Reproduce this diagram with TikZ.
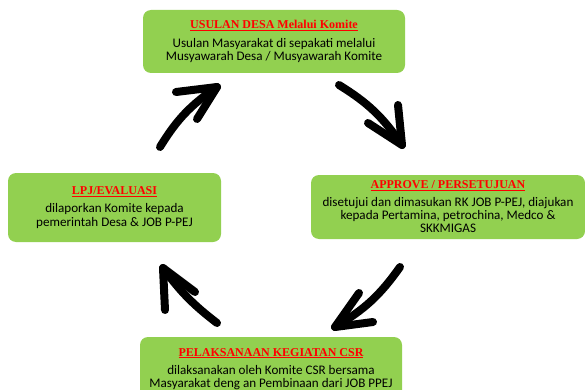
\documentclass[tikz,border=0pt]{standalone}
\usepackage{fontspec}
\setmainfont{Carlito}
\newfontfamily\titlefont{Liberation Serif}
\definecolor{boxgreen}{HTML}{92D050}
\definecolor{titlered}{HTML}{FF0000}
\begin{document}
\begin{tikzpicture}[x=1pt,y=-1pt,
  box/.style={fill=boxgreen, rounded corners=8pt, align=center, inner sep=0pt,
    font=\fontsize{13.1}{13.3}\selectfont},
  arr/.style={line width=8pt, line cap=round, line join=round, draw=black}]
\useasboundingbox (0,0) rectangle (585,390);
\clip (0,0) rectangle (585,390);
\newcommand{\ttl}[1]{{\titlefont\bfseries\color{titlered}\fontsize{12}{13.3}\selectfont\underline{#1}}}
\node[box, minimum width=262pt, minimum height=63pt] (usulan) at (274,41.5)
  {\ttl{USULAN DESA Melalui  Komite}\\[5pt]Usulan Masyarakat di sepakati melalui\\Musyawarah Desa / Musyawarah  Komite};
\node[box, minimum width=274pt, minimum height=64pt] (approve) at (448,207)
  {\ttl{APPROVE / PERSETUJUAN}\\[4pt]disetujui dan dimasukan RK JOB P-PEJ, diajukan\\kepada Pertamina, petrochina, Medco \&\\SKKMIGAS};
\node[box, minimum width=213pt, minimum height=69pt] (lpj) at (114.5,207.5)
  {\ttl{LPJ/EVALUASI}\\[5pt]dilaporkan  Komite kepada\\pemerintah Desa \& JOB P-PEJ};
\node[box, minimum width=262pt, minimum height=64pt] (csr) at (271,369)
  {\ttl{PELAKSANAAN KEGIATAN CSR}\\[5pt]dilaksanakan oleh Komite CSR bersama\\Masyarakat deng an Pembinaan dari JOB PPEJ};
% arrow 1: LPJ -> Usulan
\coordinate (a1s) at (160,147); \coordinate (a1t) at (217,87);
\coordinate (a1l) at (176,92); \coordinate (a1r) at (197,119);
\draw[arr] (a1s) to[bend left=12] (a1t);
\draw[arr] (a1l) -- (a1t) -- (a1r);
% arrow 2: Usulan -> Approve
\coordinate (a2s) at (339,85); \coordinate (a2t) at (402,145);
\coordinate (a2l) at (398,105); \coordinate (a2r) at (368,123);
\draw[arr] (a2s) to[bend left=12] (a2t);
\draw[arr] (a2l) -- (a2t) -- (a2r);
% arrow 3: Approve -> CSR
\coordinate (a3s) at (400,267); \coordinate (a3t) at (335,327);
\coordinate (a3l) at (359,293); \coordinate (a3r) at (373,322);
\draw[arr] (a3s) to[bend left=12] (a3t);
\draw[arr] (a3l) -- (a3t) -- (a3r);
% arrow 4: CSR -> LPJ
\coordinate (a4s) at (217,323); \coordinate (a4t) at (163,268);
\coordinate (a4l) at (165,310); \coordinate (a4r) at (195,292);
\draw[arr] (a4s) to[bend left=8] (a4t);
\draw[arr] (a4l) -- (a4t) -- (a4r);
\end{tikzpicture}
\end{document}
